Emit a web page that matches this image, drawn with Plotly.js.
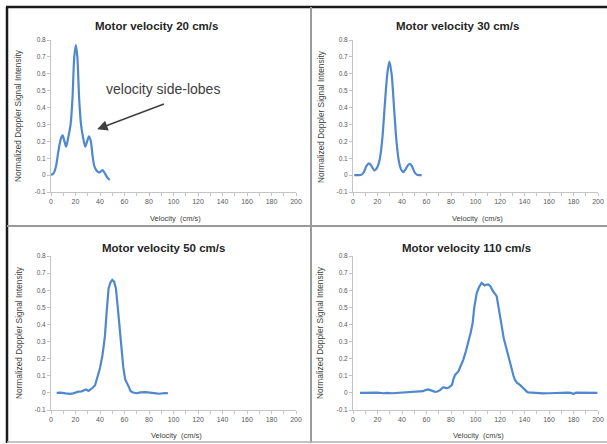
<!DOCTYPE html>
<html>
<head>
<meta charset="utf-8">
<script src="https://cdn.plot.ly/plotly-3.0.1.min.js"></script>
<style>html,body{margin:0;padding:0;background:#fff;}#chart{width:607px;height:444px;}</style>
</head>
<body>
<div id="chart"></div>
<script>
// ---- data ----
const panelTitles = ['Motor velocity 20 cm/s', 'Motor velocity 30 cm/s', 'Motor velocity 50 cm/s', 'Motor velocity 110 cm/s'];
const xTitle = 'Velocity\u00a0 (cm/s)';
const yTitle = 'Normalized Doppler Signal Intensity';
const xTickVals = [0, 20, 40, 60, 80, 100, 120, 140, 160, 180, 200];
const xTickText = ['0', '20', '40', '60', '80', '100', '120', '140', '160', '180', '200'];
const yTickVals = [-0.1, 0, 0.1, 0.2, 0.3, 0.4, 0.5, 0.6, 0.7, 0.8];
const yTickText = ['-0.1', '0', '0.1', '0.2', '0.3', '0.4', '0.5', '0.6', '0.7', '0.8'];
const sideLobeLabel = 'velocity side-lobes';

const v20x = [0, 2, 4, 6, 8, 9.5, 11, 12.3, 14, 16, 17.5, 19, 20.3, 21.5, 23, 24.5, 26, 28, 29.5, 31, 32.5, 34, 35.5, 37.5, 39.5, 42, 44, 46, 48];
const v20y = [0, 0.01, 0.05, 0.14, 0.215, 0.235, 0.2, 0.168, 0.22, 0.3, 0.45, 0.7, 0.77, 0.7, 0.45, 0.3, 0.23, 0.168, 0.2, 0.23, 0.2, 0.11, 0.05, 0.025, 0.016, 0.03, 0.01, -0.015, -0.028];

const v30x = [1, 4, 7, 9, 11, 13, 15, 17.5, 20, 22, 24, 26, 28, 29.7, 31.5, 33.5, 35.5, 37.5, 39.5, 41, 43, 45, 46.5, 48, 50, 52, 54, 56];
const v30y = [0, 0, 0.003, 0.02, 0.055, 0.07, 0.055, 0.028, 0.05, 0.1, 0.22, 0.42, 0.6, 0.672, 0.6, 0.4, 0.2, 0.08, 0.03, 0.018, 0.035, 0.06, 0.067, 0.055, 0.02, 0.003, 0, 0];

const v50x = [4.6, 8, 12, 15.6, 18, 20, 22.4, 25, 27, 28.5, 30.6, 32, 34, 36, 38, 40, 42, 44, 45.5, 47, 48.5, 50, 51.5, 53, 54.5, 56, 57.5, 59, 60.5, 62, 63.5, 65, 67, 70, 73, 77, 80, 83, 86, 88, 90, 93, 95.5];
const v50y = [0, 0.002, -0.003, -0.006, -0.003, 0.003, 0.007, 0.009, 0.015, 0.02, 0.012, 0.018, 0.03, 0.045, 0.09, 0.145, 0.22, 0.33, 0.48, 0.61, 0.645, 0.66, 0.65, 0.61, 0.5, 0.38, 0.25, 0.15, 0.08, 0.06, 0.035, 0.01, 0.002, -0.002, 0.003, 0.004, 0.003, 0.001, -0.003, -0.005, -0.002, -0.001, -0.002];

const v110x = [5.7, 10, 15, 20, 25, 28, 32, 36, 40, 45, 50, 54, 57, 59, 61.5, 63, 65, 67, 69, 71, 73.7, 76, 78, 80.8, 82, 83.3, 86, 88, 90, 92, 94, 96, 97.7, 99, 101, 103, 105, 106, 107.4, 108.5, 110.4, 112, 114.5, 117.3, 119, 121.4, 123, 125.5, 127.5, 129.6, 131, 132.2, 134, 136.3, 138, 140, 141.8, 143, 146, 150, 155, 160, 165, 170, 175, 178, 180, 182, 186, 190, 195, 199.5];
const v110y = [0, 0.001, -0.001, 0.002, -0.002, 0, -0.002, 0, 0.003, 0.005, 0.004, 0.006, 0.01, 0.016, 0.02, 0.016, 0.01, 0.006, 0.008, 0.016, 0.033, 0.028, 0.03, 0.047, 0.08, 0.105, 0.125, 0.155, 0.193, 0.24, 0.29, 0.35, 0.41, 0.5, 0.583, 0.62, 0.643, 0.635, 0.628, 0.632, 0.634, 0.625, 0.592, 0.565, 0.5, 0.39, 0.32, 0.25, 0.19, 0.135, 0.1, 0.076, 0.058, 0.047, 0.035, 0.018, 0.008, 0.003, 0.001, -0.002, -0.003, -0.002, 0, -0.001, 0.001, 0, -0.006, 0.001, 0, 0, 0, 0];

// ---- layout helpers ----
const W = 607, H = 444;
const px = v => v / W;
const py = v => 1 - v / H;
const lineColor = '#5088cf';
const font = 'Liberation Sans, Arial, sans-serif';

function xAxis(d0, d1, anchor) {
  return {
    domain: [px(d0), px(d1)], anchor: anchor, range: [0, 200],
    tickvals: xTickVals, ticktext: xTickText, showgrid: false, zeroline: false,
    showline: true, linecolor: '#c4c4c4', linewidth: 1,
    ticks: 'outside', ticklen: 3, tickcolor: '#c4c4c4',
    minor: {ticks: 'outside', dtick: 10, tick0: 0, ticklen: 3, tickcolor: '#c4c4c4', showgrid: false},
    tickfont: {family: font, size: 7, color: '#595959'}, fixedrange: true
  };
}
function yAxis(t0, t1, anchor) {
  return {
    domain: [py(t1), py(t0)], anchor: anchor, range: [-0.1, 0.8],
    tickvals: yTickVals, ticktext: yTickText, showgrid: false, zeroline: false,
    showline: true, linecolor: '#c4c4c4', linewidth: 1,
    ticks: 'outside', ticklen: 3, tickcolor: '#c4c4c4',
    tickfont: {family: font, size: 6.5, color: '#595959'}, fixedrange: true
  };
}

function trace(x, y, xa, ya, shape) {
  return {x: x, y: y, xaxis: xa, yaxis: ya, type: 'scatter', mode: 'lines',
    line: {color: lineColor, width: 2.2, shape: shape, smoothing: 0.8}, hoverinfo: 'skip'};
}

const data = [
  trace(v20x, v20y, 'x', 'y', 'spline'),
  trace(v30x, v30y, 'x2', 'y2', 'spline'),
  trace(v50x, v50y, 'x3', 'y3', 'linear'),
  trace(v110x, v110y, 'x4', 'y4', 'linear')
];

function titleAnn(text, cx, cy) {
  return {xref: 'paper', yref: 'paper', x: px(cx), y: py(cy), text: '<b>' + text + '</b>', showarrow: false,
    xanchor: 'center', yanchor: 'middle', font: {family: font, size: 11.5, color: '#262626'}};
}
function xTitleAnn(cx, cy) {
  return {xref: 'paper', yref: 'paper', x: px(cx), y: py(cy), text: xTitle, showarrow: false,
    xanchor: 'center', yanchor: 'middle', font: {family: font, size: 7.5, color: '#404040'}};
}
function yTitleAnn(cx, cy) {
  return {xref: 'paper', yref: 'paper', x: px(cx), y: py(cy), text: yTitle, showarrow: false, textangle: -90,
    xanchor: 'center', yanchor: 'middle', font: {family: font, size: 8.3, color: '#404040'}};
}

const annotations = [
  titleAnn(panelTitles[0], 156, 26),
  titleAnn(panelTitles[1], 457, 26),
  titleAnn(panelTitles[2], 163, 248),
  titleAnn(panelTitles[3], 467, 248),
  xTitleAnn(175, 218), xTitleAnn(477, 218), xTitleAnn(176, 435), xTitleAnn(478, 435),
  yTitleAnn(18, 116), yTitleAnn(321, 116), yTitleAnn(19, 333), yTitleAnn(320, 333),
  {xref: 'paper', yref: 'paper', x: px(163), y: py(89), text: sideLobeLabel, showarrow: false,
    xanchor: 'center', yanchor: 'middle', font: {family: font, size: 14, color: '#404040'}},
  {xref: 'x', yref: 'y', x: 37.7, y: 0.272, axref: 'x', ayref: 'y', ax: 93.4, ay: 0.424, text: '',
    showarrow: true, arrowhead: 2, arrowsize: 1.3, arrowwidth: 1.6, arrowcolor: '#404040'}
];

function line(x0, y0, x1, y1, color, w) {
  return {type: 'line', xref: 'paper', yref: 'paper', x0: px(x0), y0: py(y0), x1: px(x1), y1: py(y1),
    line: {color: color, width: w}};
}
const shapes = [
  line(7, 7, 7, 443, '#1a1a1a', 2.5),
  line(6, 7, 607, 7, '#1a1a1a', 2.5),
  line(311, 7, 311, 443, '#9a9a9a', 2),
  line(7, 226, 607, 226, '#9a9a9a', 2),
  line(7, 442, 607, 442, '#b0b0b0', 1.5)
];

const layout = {
  width: W, height: H, margin: {l: 0, r: 0, t: 0, b: 0},
  paper_bgcolor: '#ffffff', plot_bgcolor: 'rgba(0,0,0,0)', showlegend: false,
  font: {family: font},
  xaxis: xAxis(51, 296, 'y'), yaxis: yAxis(40, 192, 'x'),
  xaxis2: xAxis(353, 598, 'y2'), yaxis2: yAxis(40, 192, 'x2'),
  xaxis3: xAxis(51, 296, 'y3'), yaxis3: yAxis(256, 410, 'x3'),
  xaxis4: xAxis(353, 598, 'y4'), yaxis4: yAxis(256, 410, 'x4'),
  annotations: annotations, shapes: shapes
};

Plotly.newPlot('chart', data, layout, {displayModeBar: false, staticPlot: true});
</script>
</body>
</html>
